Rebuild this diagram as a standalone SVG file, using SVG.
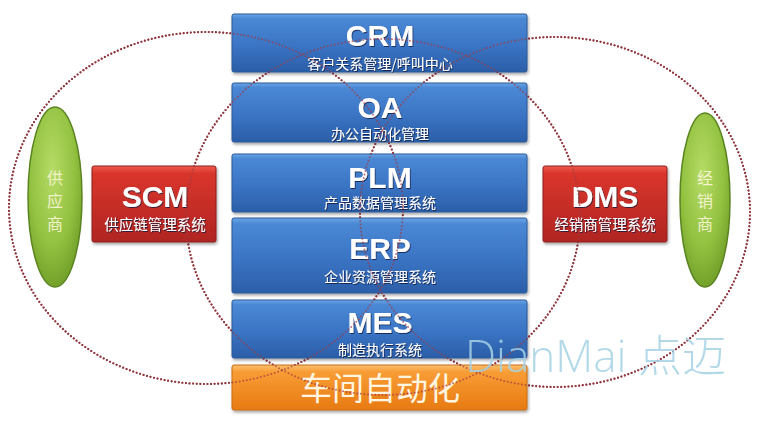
<svg xmlns="http://www.w3.org/2000/svg" xmlns:xlink="http://www.w3.org/1999/xlink" width="759" height="433" viewBox="0 0 759 433">
<defs>
<linearGradient id="gBlue" x1="0" y1="0" x2="0" y2="1">
<stop offset="0" stop-color="#6aa6e6"/><stop offset="0.08" stop-color="#4a88d4"/><stop offset="0.55" stop-color="#3a74c4"/><stop offset="1" stop-color="#2b5ea8"/>
</linearGradient>
<linearGradient id="gRed" x1="0" y1="0" x2="0" y2="1">
<stop offset="0" stop-color="#ee5a4c"/><stop offset="0.1" stop-color="#d9352c"/><stop offset="1" stop-color="#b02522"/>
</linearGradient>
<linearGradient id="gOrange" x1="0" y1="0" x2="0" y2="1">
<stop offset="0" stop-color="#fcc070"/><stop offset="0.15" stop-color="#f89d35"/><stop offset="1" stop-color="#e77a12"/>
</linearGradient>
<radialGradient id="gGreen" cx="0.45" cy="0.35" r="0.7">
<stop offset="0" stop-color="#b6dc66"/><stop offset="0.6" stop-color="#92c140"/><stop offset="1" stop-color="#6c9a26"/>
</radialGradient>
<filter id="shadow" x="-10%" y="-20%" width="120%" height="150%">
<feDropShadow dx="1" dy="2" stdDeviation="1.5" flood-color="#000" flood-opacity="0.35"/>
</filter>
<filter id="tshadow" x="-10%" y="-30%" width="120%" height="160%">
<feDropShadow dx="0.8" dy="1" stdDeviation="0.6" flood-color="#0a1e40" flood-opacity="0.8"/>
</filter>
<ellipse id="ringL" cx="206" cy="208" rx="197" ry="176"/>
<ellipse id="ringM" cx="383" cy="217" rx="197" ry="178"/>
<ellipse id="ringR" cx="555" cy="212" rx="195" ry="175"/>
</defs>
<style>
.ring{fill:none;stroke:#7a2a30;stroke-width:2.2;stroke-linecap:round;stroke-dasharray:0 3.6}
.ringTop{fill:none;stroke:#a03a44;stroke-width:2;stroke-linecap:round;stroke-dasharray:0 3.6;opacity:0.7}
.blue{fill:url(#gBlue);stroke:#2a5898;stroke-width:1;filter:url(#shadow)}
.red{fill:url(#gRed);stroke:#8e1e1e;stroke-width:1;filter:url(#shadow)}
.orange{fill:url(#gOrange);stroke:#c86c14;stroke-width:1;filter:url(#shadow)}
.green{fill:url(#gGreen);stroke:#5a8420;stroke-width:1.5}
.big{font-family:"Liberation Sans",Arial,sans-serif;font-weight:bold;font-size:30px;fill:#fff;text-anchor:middle;filter:url(#tshadow)}
.sub{font-family:"Noto Sans CJK SC","Liberation Sans",sans-serif;font-size:14px;fill:#fff;text-anchor:middle;filter:url(#tshadow)}
.vert{font-family:"Noto Sans CJK SC",sans-serif;font-size:16px;fill:#f2f2cc;text-anchor:middle}
.shop{font-family:"Noto Sans CJK SC",sans-serif;font-size:32px;fill:#fff5e0;text-anchor:middle}
.wm{font-family:"Open Sans","Lato","Noto Sans CJK SC",sans-serif;font-weight:300;font-size:44px;fill:#a6d3e6;opacity:0.85}
</style>
<rect width="759" height="433" fill="#fff"/>
<g id="rings">
<use xlink:href="#ringL" class="ring"/>
<use xlink:href="#ringM" class="ring"/>
<use xlink:href="#ringR" class="ring"/>
</g>
<g id="supplier">
<ellipse class="green" cx="55" cy="197" rx="27" ry="90"/>
<text class="vert" x="55" y="184">供</text>
<text class="vert" x="55" y="207">应</text>
<text class="vert" x="55" y="230">商</text>
</g>
<g id="dealer">
<ellipse class="green" cx="705" cy="200" rx="25" ry="87"/>
<text class="vert" x="705" y="184">经</text>
<text class="vert" x="705" y="207">销</text>
<text class="vert" x="705" y="230">商</text>
</g>
<g id="scm">
<rect class="red" x="92" y="166" width="124" height="76" rx="2"/>
<text class="big" x="155" y="207">SCM</text>
<text class="sub" x="155" y="230" style="font-size:14.5px">供应链管理系统</text>
</g>
<g id="dms">
<rect class="red" x="543" y="166" width="124" height="76" rx="2"/>
<text class="big" x="605" y="207">DMS</text>
<text class="sub" x="605" y="230" style="font-size:14.5px">经销商管理系统</text>
</g>
<g id="crm">
<rect class="blue" x="232" y="14" width="295" height="58" rx="2"/>
<text class="big" x="380" y="46">CRM</text>
<text class="sub" x="380" y="69">客户关系管理/呼叫中心</text>
</g>
<g id="oa">
<rect class="blue" x="232" y="83" width="295" height="59" rx="2"/>
<text class="big" x="380" y="118">OA</text>
<text class="sub" x="380" y="139">办公自动化管理</text>
</g>
<g id="plm">
<rect class="blue" x="232" y="154" width="295" height="58" rx="2"/>
<text class="big" x="380" y="188">PLM</text>
<text class="sub" x="380" y="208">产品数据管理系统</text>
</g>
<g id="erp">
<rect class="blue" x="232" y="218" width="295" height="75" rx="2"/>
<text class="big" x="380" y="259">ERP</text>
<text class="sub" x="380" y="282">企业资源管理系统</text>
</g>
<g id="mes">
<rect class="blue" x="232" y="300" width="295" height="58" rx="2"/>
<text class="big" x="380" y="333">MES</text>
<text class="sub" x="380" y="355">制造执行系统</text>
</g>
<g id="workshop">
<rect class="orange" x="232" y="365" width="295" height="45" rx="2"/>
<text class="shop" x="380" y="400">车间自动化</text>
</g>
<g id="rings-over">
<use xlink:href="#ringL" class="ringTop"/>
<use xlink:href="#ringM" class="ringTop"/>
<use xlink:href="#ringR" class="ringTop"/>
</g>
<text class="wm" x="465" y="372">DianMai 点迈</text>
</svg>
